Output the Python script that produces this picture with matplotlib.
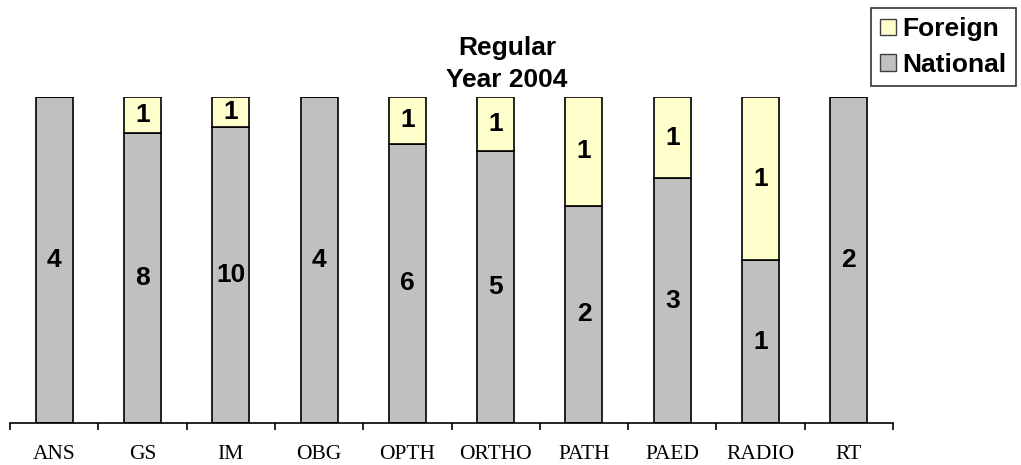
import numpy as np
import matplotlib.pyplot as plt
from matplotlib.patches import Patch

categories = ['ANS', 'GS', 'IM', 'OBG', 'OPTH', 'ORTHO', 'PATH', 'PAED', 'RADIO', 'RT']
national = [4, 8, 10, 4, 6, 5, 2, 3, 1, 2]
foreign = [0, 1, 1, 0, 1, 1, 1, 1, 1, 0]

GRAY = '#C0C0C0'
YELLOW = '#FFFFCC'

nat = np.array(national, dtype=float)
frn = np.array(foreign, dtype=float)
tot = nat + frn
nat_pct = nat / tot * 100
frn_pct = frn / tot * 100
x = np.arange(len(categories))

fig = plt.figure(figsize=(10.21, 4.65), dpi=100)
ax = fig.add_axes([10 / 1021, 42 / 465, 883 / 1021, 326 / 465])

ax.bar(x, nat_pct, width=0.42, color=GRAY, edgecolor='black', linewidth=1.2)
ax.bar(x, frn_pct, width=0.42, bottom=nat_pct, color=YELLOW, edgecolor='black', linewidth=1.2)

lab = dict(ha='center', va='center', fontsize=19, fontweight='bold', family='Liberation Sans')
for i in range(len(categories)):
    ax.text(x[i], nat_pct[i] / 2, str(national[i]), **lab)
    if foreign[i] > 0:
        ax.text(x[i], nat_pct[i] + frn_pct[i] / 2, str(foreign[i]), **lab)

ax.set_xlim(-0.5, len(categories) - 0.5)
ax.set_ylim(0, 100)
ax.set_yticks([])
for s in ['left', 'right', 'top']:
    ax.spines[s].set_visible(False)
ax.spines['bottom'].set_linewidth(1.2)

ax.set_xticks(x)
ax.set_xticklabels(categories, family='Liberation Serif', fontsize=15.5)
ax.set_xticks(np.arange(len(categories) + 1) - 0.5, minor=True)
ax.tick_params(axis='x', which='major', length=0, pad=16)
ax.tick_params(axis='x', which='minor', length=5, width=1.2, direction='out')

fig.text(507 / 1021, 1 - 87 / 465, 'Regular\nYear 2004', ha='center', va='baseline',
         fontsize=19, fontweight='bold', family='Liberation Sans', linespacing=1.4)

handles = [Patch(facecolor=YELLOW, edgecolor='#404040', label='Foreign'),
           Patch(facecolor=GRAY, edgecolor='#404040', label='National')]
leg = fig.legend(handles=handles, loc='upper left', bbox_to_anchor=(871 / 1021, 1 - 8 / 465),
                 frameon=True, fancybox=False, edgecolor='black', borderaxespad=0,
                 prop={'family': 'Liberation Sans', 'weight': 'bold', 'size': 19},
                 handlelength=0.6, handleheight=0.6, handletextpad=0.25,
                 labelspacing=0.45, borderpad=0.35)
leg.get_frame().set_linewidth(1.2)

plt.savefig('out.png', dpi=100)
